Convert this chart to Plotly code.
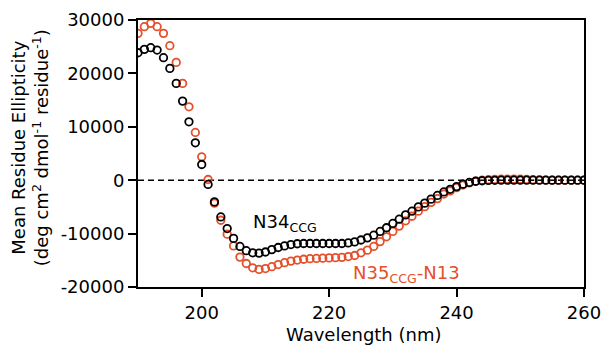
import plotly.graph_objects as go

wavelength = list(range(190, 261))

n34_ccg = [
    23870, 24500, 24810, 24375, 22940, 20940, 18130, 14810, 10940, 7000,   # 190-199
    2940, -800, -4060, -6880, -9060, -10900, -12400, -13200, -13600, -13650,  # 200-209
    -13450, -13000, -12600, -12300, -12050, -11900, -11850, -11850, -11850, -11850,  # 210-219
    -11850, -11850, -11850, -11750, -11550, -11200, -10800, -10300, -9600, -8900,  # 220-229
    -8100, -7300, -6500, -5800, -5000, -4300, -3550, -2850, -2200, -1700,  # 230-239
    -1200, -750, -420, -200, -100, -50, -20, 0, 0, 0,  # 240-249
    0, 0, 0, 0, 0, 0, 0, 0, 0, 0,  # 250-259
    0,  # 260
]

n35_ccg_n13 = [
    27500, 28750, 29375, 28750, 27500, 25190, 22060, 18130, 13750, 8940,  # 190-199
    4375, 130, -4300, -7500, -10100, -12300, -14400, -15600, -16400, -16700,  # 200-209
    -16550, -16200, -15800, -15450, -15150, -14950, -14800, -14700, -14650, -14600,  # 210-219
    -14550, -14500, -14450, -14300, -14100, -13600, -13100, -12400, -11500, -10600,  # 220-229
    -9600, -8600, -7600, -6750, -5800, -4950, -4150, -3450, -2600, -2000,  # 230-239
    -1400, -900, -500, -200, 0, 100, 150, 180, 200, 200,  # 240-249
    180, 150, 100, 60, 30, 0, 0, 0, 0, 0,  # 250-259
    0,  # 260
]

x_ticks = [200, 220, 240, 260]
y_ticks = [-20000, -10000, 0, 10000, 20000, 30000]
y_tick_labels = ["-20000", "-10000", "0", "10000", "20000", "30000"]

FONT = "DejaVu Sans"
RED = "#E5502B"

fig = go.Figure()
fig.add_trace(go.Scatter(
    x=wavelength, y=n35_ccg_n13, mode="markers", name="N35CCG-N13",
    marker=dict(symbol="circle-open", size=7.5, color=RED, line=dict(width=1.8, color=RED)),
))
fig.add_trace(go.Scatter(
    x=wavelength, y=n34_ccg, mode="markers", name="N34CCG",
    marker=dict(symbol="circle-open", size=7.5, color="black", line=dict(width=1.8, color="black")),
))

fig.add_shape(type="line", xref="paper", yref="y", x0=0, x1=1, y0=0, y1=0,
              line=dict(color="black", width=1.5, dash="6px,4px"), layer="below")

fig.add_annotation(x=207.8, y=-8000, xref="x", yref="y", text="N34<sub>CCG</sub>",
                   showarrow=False, xanchor="left", yanchor="middle",
                   font=dict(family=FONT, size=18, color="black"))
fig.add_annotation(x=223.4, y=-17600, xref="x", yref="y", text="N35<sub>CCG</sub>-N13",
                   showarrow=False, xanchor="left", yanchor="middle",
                   font=dict(family=FONT, size=18, color=RED))

fig.add_annotation(x=-0.242, y=0.52, xref="paper", yref="paper", textangle=-90,
                   text="Mean Residue Ellipticity<br>(deg cm<sup>2</sup> dmol<sup>-1</sup> residue<sup>-1</sup>)",
                   showarrow=False, xanchor="center", yanchor="middle",
                   font=dict(family=FONT, size=18, color="black"))
fig.add_annotation(x=0.507, y=-0.178, xref="paper", yref="paper", text="Wavelength (nm)",
                   showarrow=False, xanchor="center", yanchor="middle",
                   font=dict(family=FONT, size=18, color="black"))

fig.update_layout(
    width=602, height=348,
    margin=dict(l=138, r=18, t=20, b=61),
    plot_bgcolor="white", paper_bgcolor="white",
    showlegend=False,
    font=dict(family=FONT, size=18, color="black"),
)
fig.update_xaxes(range=[190, 260], tickvals=x_ticks, ticks="outside", ticklen=8, tickwidth=2,
                 tickcolor="black", showline=True, linewidth=2, linecolor="black", mirror=True,
                 showgrid=False, zeroline=False, automargin=False,
                 tickfont=dict(family=FONT, size=18))
fig.update_yaxes(range=[-20000, 30000], tickvals=y_ticks, ticktext=y_tick_labels, ticks="outside",
                 ticklen=8, tickwidth=2, tickcolor="black", showline=True, linewidth=2,
                 linecolor="black", mirror=True, showgrid=False, zeroline=False, automargin=False,
                 tickfont=dict(family=FONT, size=18))

fig.write_html("out.html", config={"displayModeBar": False},
               post_script="document.body.style.margin='0';document.body.style.overflow='hidden';")
